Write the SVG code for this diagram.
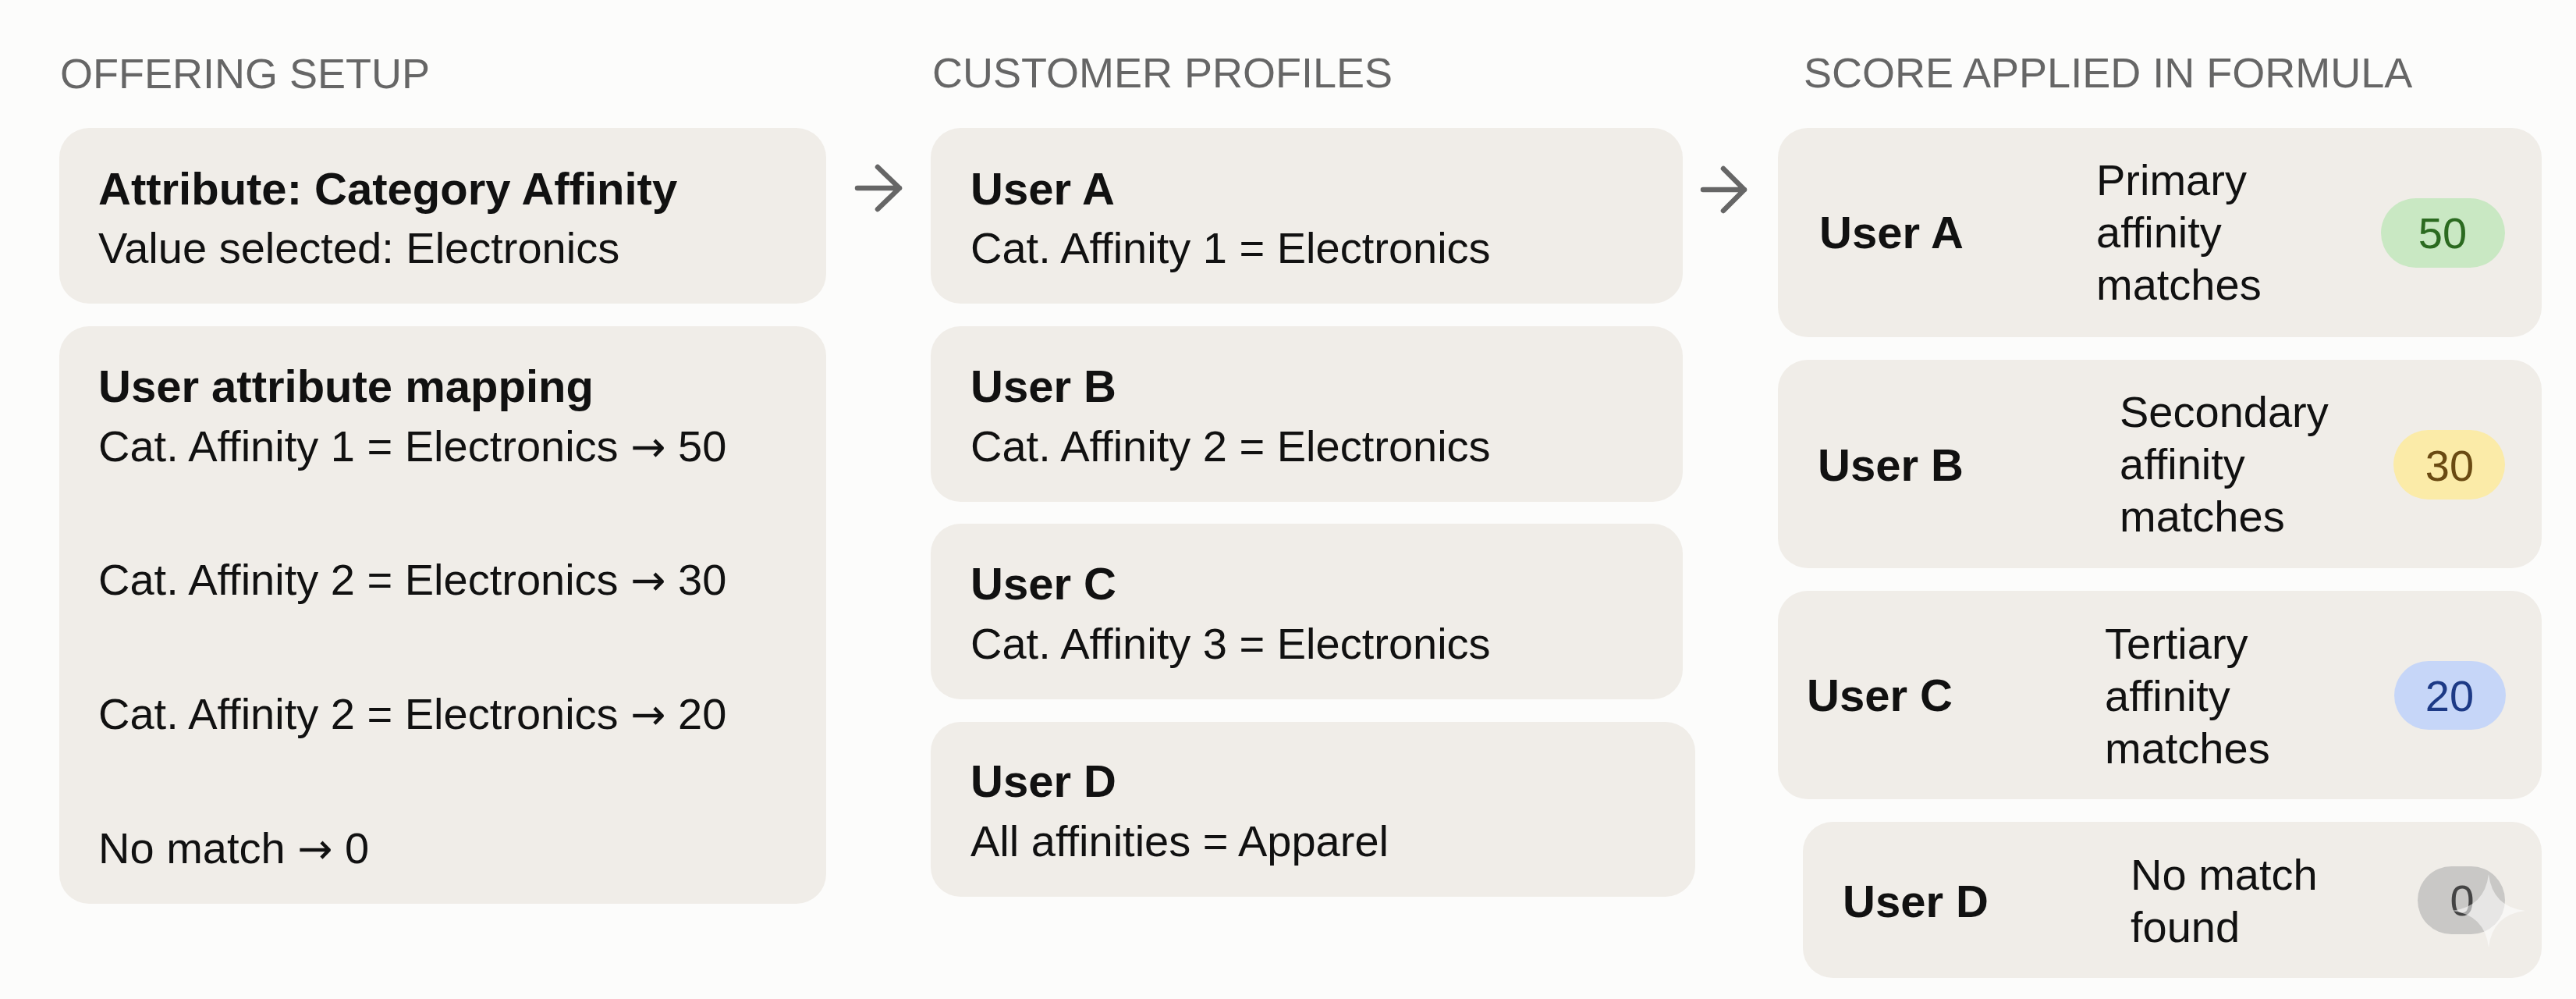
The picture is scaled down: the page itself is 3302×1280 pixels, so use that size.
<svg xmlns="http://www.w3.org/2000/svg" width="3302" height="1280" viewBox="0 0 3302 1280">
  <defs>
    <style>
      .bg { fill: #FCFCFB; }
      .card { fill: #F0EDE8; }
      .hdr { font-family: "Liberation Sans", Arial, sans-serif; font-size: 54px; fill: #666666; }
      .ttl { font-family: "Liberation Sans", Arial, sans-serif; font-size: 58px; font-weight: bold; fill: #111111; }
      .txt { font-family: "Liberation Sans", Arial, sans-serif; font-size: 56px; fill: #111111; }
      .arr { font-family: "DejaVu Sans", sans-serif; font-size: 54px; }
      .num { font-family: "Liberation Sans", Arial, sans-serif; font-size: 56px; text-anchor: middle; }
      .conn { fill: none; stroke: #666666; stroke-width: 6.5; stroke-linecap: round; stroke-linejoin: round; }
    </style>
  </defs>

  <rect class="bg" x="0" y="0" width="3302" height="1280"/>

  <!-- Column headers -->
  <g id="headers">
    <text class="hdr" x="77" y="113">OFFERING SETUP</text>
    <text class="hdr" x="1195" y="112">CUSTOMER PROFILES</text>
    <text class="hdr" x="2312" y="112">SCORE APPLIED IN FORMULA</text>
  </g>

  <!-- Column 1: offering setup -->
  <g id="attribute-box">
    <rect class="card" x="76" y="164" width="983" height="225" rx="38"/>
    <text class="ttl" x="126" y="262">Attribute: Category Affinity</text>
    <text class="txt" x="126" y="337">Value selected: Electronics</text>
  </g>
  <g id="mapping-box">
    <rect class="card" x="76" y="418" width="983" height="740" rx="38"/>
    <text class="ttl" x="126" y="515">User attribute mapping</text>
    <text class="txt" x="126" y="591">Cat. Affinity 1 = Electronics <tspan class="arr">→</tspan> 50</text>
    <text class="txt" x="126" y="762">Cat. Affinity 2 = Electronics <tspan class="arr">→</tspan> 30</text>
    <text class="txt" x="126" y="934">Cat. Affinity 2 = Electronics <tspan class="arr">→</tspan> 20</text>
    <text class="txt" x="126" y="1106">No match <tspan class="arr">→</tspan> 0</text>
  </g>

  <!-- Column 2: customer profiles -->
  <g id="profile-a">
    <rect class="card" x="1193" y="164" width="964" height="225" rx="38"/>
    <text class="ttl" x="1244" y="262">User A</text>
    <text class="txt" x="1244" y="337">Cat. Affinity 1 = Electronics</text>
  </g>
  <g id="profile-b">
    <rect class="card" x="1193" y="418" width="964" height="225" rx="38"/>
    <text class="ttl" x="1244" y="515">User B</text>
    <text class="txt" x="1244" y="591">Cat. Affinity 2 = Electronics</text>
  </g>
  <g id="profile-c">
    <rect class="card" x="1193" y="671" width="964" height="225" rx="38"/>
    <text class="ttl" x="1244" y="768">User C</text>
    <text class="txt" x="1244" y="844">Cat. Affinity 3 = Electronics</text>
  </g>
  <g id="profile-d">
    <rect class="card" x="1193" y="925" width="980" height="224" rx="38"/>
    <text class="ttl" x="1244" y="1021">User D</text>
    <text class="txt" x="1244" y="1097">All affinities = Apparel</text>
  </g>

  <!-- Column 3: scores -->
  <g id="score-a">
    <rect class="card" x="2279" y="164" width="979" height="268" rx="38"/>
    <text class="ttl" x="2332" y="318">User A</text>
    <text class="txt" x="2687" y="250">Primary</text>
    <text class="txt" x="2687" y="317">affinity</text>
    <text class="txt" x="2687" y="384">matches</text>
    <rect x="3052" y="254" width="159" height="89" rx="44.5" fill="#C9E8C3"/>
    <text class="num" x="3131" y="318" fill="#2B6A20">50</text>
  </g>
  <g id="score-b">
    <rect class="card" x="2279" y="461" width="979" height="267" rx="38"/>
    <text class="ttl" x="2330" y="616">User B</text>
    <text class="txt" x="2717" y="547">Secondary</text>
    <text class="txt" x="2717" y="614">affinity</text>
    <text class="txt" x="2717" y="681">matches</text>
    <rect x="3068" y="551" width="143" height="89" rx="44.5" fill="#FBEBA8"/>
    <text class="num" x="3140" y="616" fill="#6A4A12">30</text>
  </g>
  <g id="score-c">
    <rect class="card" x="2279" y="757" width="979" height="267" rx="38"/>
    <text class="ttl" x="2316" y="911">User C</text>
    <text class="txt" x="2698" y="844">Tertiary</text>
    <text class="txt" x="2698" y="911">affinity</text>
    <text class="txt" x="2698" y="978">matches</text>
    <rect x="3069" y="847" width="143" height="88" rx="44" fill="#C6D6F8"/>
    <text class="num" x="3140" y="911" fill="#1D3A86">20</text>
  </g>
  <g id="score-d">
    <rect class="card" x="2311" y="1053" width="947" height="200" rx="38"/>
    <text class="ttl" x="2362" y="1175">User D</text>
    <text class="txt" x="2731" y="1140">No match</text>
    <text class="txt" x="2731" y="1207">found</text>
    <rect x="3099" y="1110" width="112" height="87" rx="43.5" fill="#C9C8C6"/>
    <text class="num" x="3156" y="1173" fill="#444444">0</text>
    <path d="M3190 1120 Q3195 1162 3237 1167 Q3195 1172 3190 1214 Q3185 1172 3143 1167 Q3185 1162 3190 1120 Z" fill="#FFFFFF" opacity="0.55"/>
  </g>

  <!-- Connectors -->
  <g id="connectors">
    <path class="conn" d="M1099 241 L1153 241 M1125 214 L1153 241 L1125 268"/>
    <path class="conn" d="M2183 243 L2236 243 M2209 216 L2236 243 L2209 270"/>
  </g>
</svg>
